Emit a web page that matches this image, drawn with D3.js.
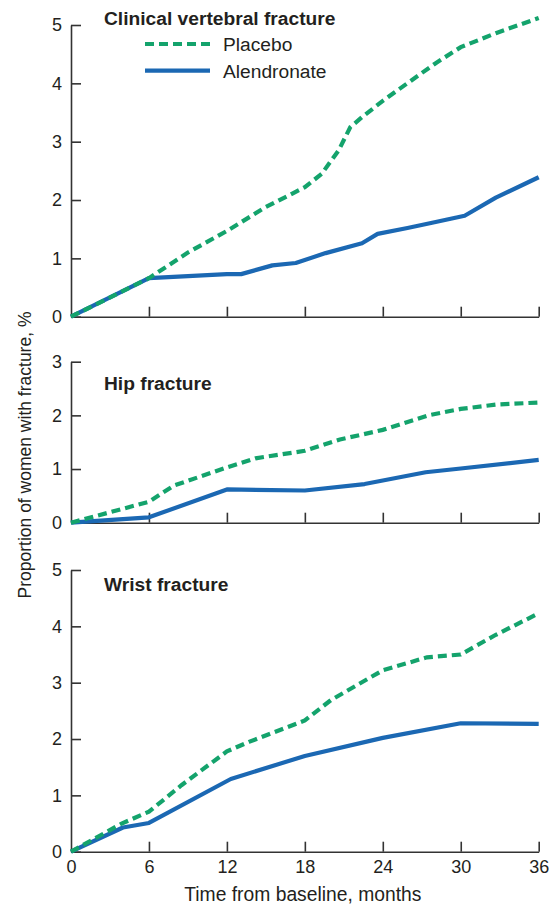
<!DOCTYPE html>
<html><head><meta charset="utf-8">
<script src="https://cdn.jsdelivr.net/npm/d3@7/dist/d3.min.js"></script>
<style>
html,body{margin:0;padding:0;background:#fff;}
svg{display:block;font-family:"Liberation Sans",Arial,Helvetica,sans-serif;}
</style></head>
<body><svg id="c" width="556" height="904"></svg>
<script>
// ---- data ----
const xTicks = [0, 6, 12, 18, 24, 30, 36];
const seriesNames = ["Placebo", "Alendronate"];
const panelTitles = ["Clinical vertebral fracture", "Hip fracture", "Wrist fracture"];
const yMax = [5, 3, 5];

const vertPlaceboMonths = [0, 6, 9, 12, 15, 18, 19.3, 20.6, 21.5, 22.4, 24, 26.2, 28.1, 30, 32.7, 36];
const vertPlaceboValues = [0, 0.66, 1.1, 1.47, 1.88, 2.22, 2.45, 2.85, 3.25, 3.42, 3.7, 4.05, 4.35, 4.62, 4.86, 5.12];
const vertAlenMonths = [0, 6, 12, 13.1, 15.5, 17.3, 19.6, 22.4, 23.6, 25.9, 27.8, 30.3, 32.7, 36];
const vertAlenValues = [0, 0.66, 0.73, 0.73, 0.88, 0.92, 1.09, 1.26, 1.42, 1.52, 1.61, 1.73, 2.04, 2.39];

const hipPlaceboMonths = [0, 6, 7.9, 12, 14.2, 18, 20.7, 24, 27.5, 30, 32.7, 36];
const hipPlaceboValues = [0, 0.39, 0.69, 1.03, 1.2, 1.34, 1.55, 1.73, 2.0, 2.12, 2.2, 2.24];
const hipAlenMonths = [0, 6, 12, 18, 22.6, 27.3, 30, 36];
const hipAlenValues = [0, 0.1, 0.62, 0.6, 0.72, 0.94, 1.01, 1.17];

const wristPlaceboMonths = [0, 3.9, 6, 8.5, 12, 13.7, 18, 20, 24, 27.4, 30, 32.7, 36];
const wristPlaceboValues = [0, 0.5, 0.71, 1.18, 1.78, 1.95, 2.33, 2.69, 3.22, 3.45, 3.5, 3.85, 4.23];
const wristAlenMonths = [0, 4, 6, 12.3, 18, 24, 30, 36];
const wristAlenValues = [0, 0.43, 0.51, 1.29, 1.7, 2.02, 2.28, 2.27];

// ---- layout ----
const colors = {Placebo: "#14a36c", Alendronate: "#1b68b3"};
const axisColor = "#333";
const textColor = "#231f20";
const x0 = 71, x1 = 538.7;
const panelRanges = [[316.7, 25], [522.7, 361.7], [851.7, 570]];
const titlePos = [[104, 25], [104, 390], [104, 591]];

const panels = [
  {p: [vertPlaceboMonths, vertPlaceboValues], a: [vertAlenMonths, vertAlenValues]},
  {p: [hipPlaceboMonths, hipPlaceboValues], a: [hipAlenMonths, hipAlenValues]},
  {p: [wristPlaceboMonths, wristPlaceboValues], a: [wristAlenMonths, wristAlenValues]}
];

const svg = d3.select("#c");
const x = d3.scaleLinear().domain([0, 36]).range([x0, x1]);

panels.forEach((pd, i) => {
  const y = d3.scaleLinear().domain([0, yMax[i]]).range(panelRanges[i]);
  const g = svg.append("g");

  const ya = g.append("g").attr("transform", `translate(${x0},0)`)
    .call(d3.axisLeft(y).tickValues(d3.range(0, yMax[i] + 1)).tickSizeInner(-10).tickSizeOuter(0).tickPadding(9).tickFormat(d3.format("d")));
  const xa = g.append("g").attr("transform", `translate(0,${panelRanges[i][0]})`)
    .call(d3.axisBottom(x).tickValues(xTicks).tickSizeInner(-10).tickSizeOuter(0).tickPadding(9)
      .tickFormat(i === 2 ? d3.format("d") : () => ""));
  xa.selectAll(".tick").filter(d => d === 0).select("line").remove();
  [ya, xa].forEach(a => {
    a.select(".domain").attr("stroke", axisColor).attr("stroke-width", 1.6);
    a.selectAll(".tick line").attr("stroke", axisColor).attr("stroke-width", 1.6);
    a.selectAll(".tick text").attr("fill", textColor).style("font-size", "18px").style("font-family", "'Liberation Sans',Arial,sans-serif");
  });

  const line = d3.line().x(d => x(d[0])).y(d => y(d[1]));
  const mk = (arr) => arr[0].map((m, k) => [m, arr[1][k]]);

  g.append("path").datum(mk(pd.a)).attr("d", line)
    .attr("fill", "none").attr("stroke", colors.Alendronate).attr("stroke-width", 4.2).attr("stroke-linejoin", "round");
  g.append("path").datum(mk(pd.p)).attr("d", line)
    .attr("fill", "none").attr("stroke", colors.Placebo).attr("stroke-width", 4.2).attr("stroke-dasharray", "9,5");

  g.append("text").attr("x", titlePos[i][0]).attr("y", titlePos[i][1])
    .attr("fill", textColor).style("font-size", "19.2px").style("font-weight", "bold")
    .text(panelTitles[i]);
});

// legend
const leg = svg.append("g");
seriesNames.forEach((s, k) => {
  const yy = 44 + k * 26.7;
  leg.append("line").attr("x1", 145).attr("x2", 210).attr("y1", yy).attr("y2", yy)
    .attr("stroke", colors[s]).attr("stroke-width", 4.2)
    .attr("stroke-dasharray", s === "Placebo" ? "9,5" : null);
  leg.append("text").attr("x", 223).attr("y", yy + 7).attr("fill", textColor)
    .style("font-size", "19.2px").text(s);
});

// axis titles
svg.append("text").attr("x", (x0 + x1) / 2 - 2).attr("y", 901).attr("text-anchor", "middle")
  .attr("fill", textColor).style("font-size", "19.3px").text("Time from baseline, months");
svg.append("text").attr("transform", "translate(31,455) rotate(-90)").attr("text-anchor", "middle")
  .attr("fill", textColor).style("font-size", "17.5px").text("Proportion of women with fracture, %");
</script></body></html>
